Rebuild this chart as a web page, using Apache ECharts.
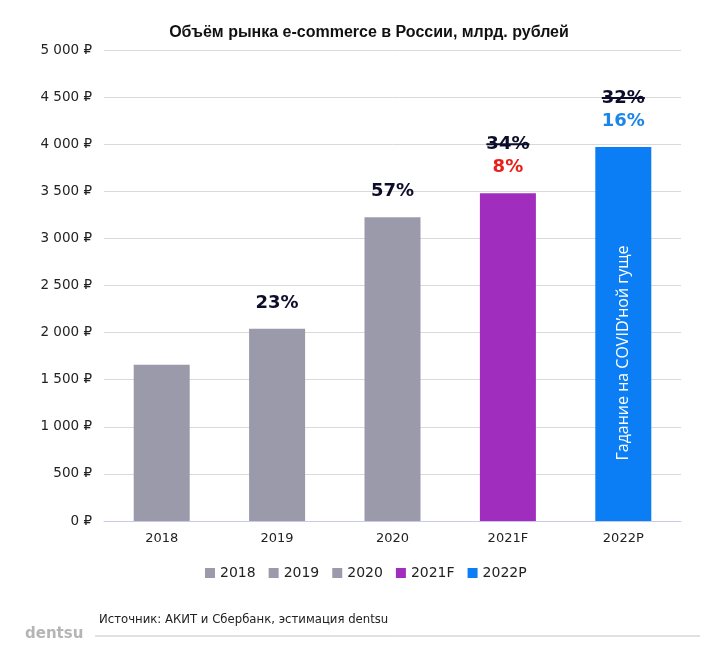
<!DOCTYPE html>
<html>
<head>
<meta charset="utf-8">
<script src="https://cdn.jsdelivr.net/npm/echarts@6/dist/echarts.min.js"></script>
<style>html,body{margin:0;padding:0;background:#fff;}#c{width:701px;height:656px;}</style>
</head>
<body>
<div id="c"></div>
<script>
const categories = ['2018', '2019', '2020', '2021F', '2022P'];
const values = [1660, 2040, 3225, 3480, 3970];
const growthLabels = ['', '23%', '57%', '8%', '16%'];
const struckLabels = ['', '', '', '34%', '32%'];
const growthColors = ['#0d0d2b', '#0d0d2b', '#0d0d2b', '#e8201c', '#1b86e8'];
const barColors = ['#9b9aaa', '#9b9aaa', '#9b9aaa', '#a12dbf', '#0b7ef6'];
const insideText = 'Гадание на COVID’ной гуще';
const titleText = 'Объём рынка e-commerce в России, млрд. рублей';
const sourceText = 'Источник: АКИТ и Сбербанк, эстимация dentsu';
const yMax = 5000, yStep = 500;

const chart = echarts.init(document.getElementById('c'), null, {renderer: 'canvas'});
const pctFont = 'bold 18px "DejaVu Sans"';
const mctx = document.createElement('canvas').getContext('2d');
mctx.font = pctFont;

const barSeries = categories.map((c, i) => ({
  name: c,
  type: 'bar',
  barWidth: 56,
  barGap: '-100%',
  itemStyle: {color: barColors[i]},
  data: values.map((v, j) => j === i ? v : '-'),
  label: i === 4 ? {
    show: true, position: 'inside', rotate: 90, formatter: insideText,
    color: '#fff', fontSize: 16, fontFamily: '"Open Sans"', offset: [-19, 0]
  } : {show: false},
  emphasis: {disabled: true}
}));

const labelSeries = {
  type: 'custom',
  silent: true,
  clip: false,
  z: 10,
  data: categories.map((c, i) => [i, values[i], i]),
  renderItem: function (params, api) {
    const i = api.value(2);
    const pt = api.coord([api.value(0), api.value(1)]);
    const children = [];
    if (growthLabels[i]) {
      children.push({type: 'text', style: {text: growthLabels[i], x: pt[0], y: pt[1] - 26,
        align: 'center', verticalAlign: 'middle', font: pctFont, fill: growthColors[i]}});
    }
    if (struckLabels[i]) {
      const w = mctx.measureText(struckLabels[i]).width;
      const y = pt[1] - 49;
      children.push({type: 'text', style: {text: struckLabels[i], x: pt[0], y: y,
        align: 'center', verticalAlign: 'middle', font: pctFont, fill: '#0d0d2b'}});
      children.push({type: 'line', shape: {x1: pt[0] - w / 2, y1: y, x2: pt[0] + w / 2, y2: y},
        style: {stroke: '#0d0d2b', lineWidth: 2}});
    }
    return {type: 'group', children: children};
  }
};

chart.setOption({
  animation: false,
  backgroundColor: '#fff',
  title: {
    text: titleText, left: 364, top: 20, textAlign: 'center',
    textStyle: {fontFamily: '"Liberation Sans"', fontWeight: 'bold', fontSize: 16, color: '#111'}
  },
  legend: {
    data: categories, left: 200, top: 561, itemWidth: 10, itemHeight: 10, itemGap: 13,
    icon: 'rect', selectedMode: false,
    textStyle: {fontFamily: '"DejaVu Sans"', fontSize: 14, color: '#222'}
  },
  grid: {left: 104, right: 20, top: 50, bottom: 135},
  xAxis: {
    type: 'category', data: categories,
    axisLine: {lineStyle: {color: '#c9c9ee', width: 1}},
    axisTick: {show: false},
    axisLabel: {fontFamily: '"DejaVu Sans"', fontSize: 13, color: '#222', margin: 11}
  },
  yAxis: {
    type: 'value', min: 0, max: yMax, interval: yStep,
    axisLine: {show: false}, axisTick: {show: false},
    splitLine: {lineStyle: {color: '#d9d9d9'}},
    axisLabel: {
      fontFamily: '"DejaVu Sans"', fontSize: 13.5, color: '#222', margin: 12,
      formatter: v => String(v).replace(/\B(?=(\d{3})+(?!\d))/g, ' ') + ' ₽'
    }
  },
  graphic: [
    {type: 'text', left: 99, top: 614, style: {text: sourceText, font: '11.7px "DejaVu Sans"', fill: '#222'}},
    {type: 'text', left: 25, top: 627, style: {text: 'dentsu', font: 'bold 15px "DejaVu Sans"', fill: '#b5b5b5'}},
    {type: 'line', shape: {x1: 95, y1: 636, x2: 700, y2: 636}, style: {stroke: '#c4c4c4', lineWidth: 1}}
  ],
  series: barSeries.concat([labelSeries])
});
</script>
</body>
</html>
